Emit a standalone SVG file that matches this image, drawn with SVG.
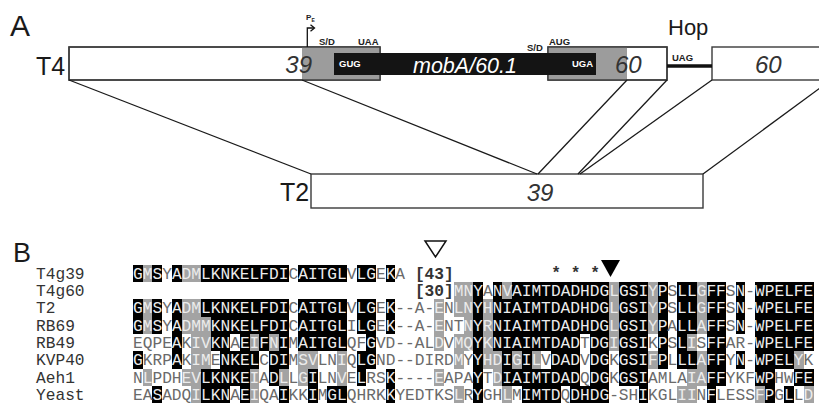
<svg xmlns="http://www.w3.org/2000/svg" width="819" height="405" viewBox="0 0 819 405">
<style>
.sans{font-family:"Liberation Sans",Arial,sans-serif}
.box{fill:#fff;stroke:#3a3a3a;stroke-width:1.4}
.outl{fill:none;stroke:#3a3a3a;stroke-width:1.4}
.gr{fill:#9c9c9c}
.bar{fill:#141414}
.conn{stroke:#1a1a1a;stroke-width:1.3;fill:none}
.big{font-size:25px;fill:#1a1a1a}
.num{font-size:24px;font-style:italic;fill:#333}
.tag{font-size:9.5px;font-weight:bold;fill:#222}
.wtag{font-size:9.5px;font-weight:bold;fill:#fff}
.mono{font-family:"Liberation Mono","Courier New",monospace;font-size:16.2px}
.name{fill:#333}
.l{fill:#ececec}
.d{fill:#6a6a6a}
.shB{fill:#000}
.shG{fill:#a3a3a3}
</style>

<!-- Panel A -->
<text class="sans" x="10" y="36" font-size="30" fill="#1a1a1a">A</text>
<text class="sans" x="668" y="35" font-size="22" fill="#1a1a1a">Hop</text>

<g id="T4">
  <text class="sans big" x="36" y="75">T4</text>
  <g id="T4-gene39">
    <rect class="box" x="69" y="47" width="311" height="33"/>
    <rect class="gr" x="302" y="47" width="78" height="33"/>
    <rect class="outl" x="69" y="47" width="311" height="33"/>
  </g>
  <g id="T4-gene60">
    <rect class="box" x="548" y="47" width="119" height="33"/>
    <rect class="gr" x="548" y="47" width="79" height="33"/>
    <rect class="outl" x="548" y="47" width="119" height="33"/>
  </g>
  <g id="T4-gene60b">
    <rect class="box" x="712" y="47" width="125" height="33"/>
    <text class="sans num" x="755" y="73">60</text>
  </g>
  <g id="mobA">
    <rect class="bar" x="334" y="53" width="262" height="22"/>
    <text class="sans" x="413" y="73" font-size="21.5" font-style="italic" fill="#fff">mobA/60.1</text>
    <text class="sans wtag" x="339" y="67">GUG</text>
    <text class="sans wtag" x="572" y="67">UGA</text>
  </g>
  <text class="sans num" x="312" y="73" text-anchor="end">39</text>
  <text class="sans num" x="615" y="73">60</text>
  <text class="sans tag" x="319" y="45">S/D</text>
  <text class="sans tag" x="358" y="45">UAA</text>
  <text class="sans tag" x="527" y="51">S/D</text>
  <text class="sans tag" x="549" y="45">AUG</text>
  <text class="sans tag" x="672" y="61">UAG</text>
  <line x1="667" y1="66" x2="712" y2="66" stroke="#111" stroke-width="3.5"/>
  <g id="promoter">
    <path d="M307.3,47 V28 H314" fill="none" stroke="#111" stroke-width="1.3"/>
    <path d="M310.5,24.8 L314.5,28 L310.5,31.2" fill="none" stroke="#111" stroke-width="1.3"/>
    <text class="sans" x="306" y="20" font-size="8" font-weight="bold" fill="#222">P</text>
    <text class="sans" x="311.5" y="22" font-size="5" font-weight="bold" fill="#222">E</text>
  </g>
</g>

<g id="T2">
  <text class="sans big" x="280" y="201">T2</text>
  <rect class="box" x="311" y="174" width="392" height="34"/>
  <text class="sans num" x="540" y="201" text-anchor="middle" font-size="23">39</text>
</g>

<g id="connectors">
  <line class="conn" x1="69" y1="80" x2="311" y2="174"/>
  <line class="conn" x1="302" y1="80" x2="537" y2="174"/>
  <line class="conn" x1="627" y1="80" x2="538" y2="174"/>
  <line class="conn" x1="667" y1="80" x2="578" y2="174"/>
  <line class="conn" x1="712" y1="80" x2="580" y2="174"/>
  <line class="conn" x1="703" y1="174" x2="831" y2="80"/>
</g>

<!-- Panel B -->
<text class="sans" x="13" y="262" font-size="27" fill="#1a1a1a">B</text>
<polygon points="425,241 446,241 435.5,257" fill="#fff" stroke="#111" stroke-width="1.5"/>
<polygon points="601,260 620,260 610.5,277" fill="#000"/>
<g class="mono" fill="#333" text-anchor="middle" font-size="15" font-weight="bold">
  <text x="556" y="278">*</text>
  <text x="575.5" y="278">*</text>
  <text x="595" y="278">*</text>
</g>

<g id="shading" transform="translate(133,0) scale(9.7215,1)" shape-rendering="crispEdges">
  <g class="shB">
    <rect x="0" y="264.85" width="1" height="17.3"/><rect x="2" y="264.85" width="1" height="17.3"/><rect x="4" y="264.85" width="1" height="17.3"/><rect x="7" y="264.85" width="9" height="17.3"/><rect x="17" y="264.85" width="5" height="17.3"/><rect x="23" y="264.85" width="2" height="17.3"/><rect x="26" y="264.85" width="1" height="17.3"/>
    <rect x="35" y="282.15" width="1" height="17.3"/><rect x="37" y="282.15" width="1" height="17.3"/><rect x="39" y="282.15" width="10" height="17.3"/><rect x="50" y="282.15" width="3" height="17.3"/><rect x="54" y="282.15" width="1" height="17.3"/><rect x="56" y="282.15" width="2" height="17.3"/><rect x="59" y="282.15" width="2" height="17.3"/><rect x="62" y="282.15" width="1" height="17.3"/><rect x="64" y="282.15" width="6" height="17.3"/>
    <rect x="0" y="299.45" width="1" height="17.3"/><rect x="2" y="299.45" width="1" height="17.3"/><rect x="4" y="299.45" width="1" height="17.3"/><rect x="7" y="299.45" width="9" height="17.3"/><rect x="17" y="299.45" width="5" height="17.3"/><rect x="23" y="299.45" width="2" height="17.3"/><rect x="26" y="299.45" width="1" height="17.3"/><rect x="35" y="299.45" width="1" height="17.3"/><rect x="37" y="299.45" width="12" height="17.3"/><rect x="50" y="299.45" width="3" height="17.3"/><rect x="54" y="299.45" width="1" height="17.3"/><rect x="56" y="299.45" width="2" height="17.3"/><rect x="59" y="299.45" width="2" height="17.3"/><rect x="62" y="299.45" width="1" height="17.3"/><rect x="64" y="299.45" width="6" height="17.3"/>
    <rect x="0" y="316.75" width="1" height="17.3"/><rect x="2" y="316.75" width="1" height="17.3"/><rect x="4" y="316.75" width="1" height="17.3"/><rect x="8" y="316.75" width="8" height="17.3"/><rect x="17" y="316.75" width="5" height="17.3"/><rect x="23" y="316.75" width="2" height="17.3"/><rect x="26" y="316.75" width="1" height="17.3"/><rect x="35" y="316.75" width="1" height="17.3"/><rect x="37" y="316.75" width="12" height="17.3"/><rect x="50" y="316.75" width="3" height="17.3"/><rect x="54" y="316.75" width="1" height="17.3"/><rect x="56" y="316.75" width="2" height="17.3"/><rect x="59" y="316.75" width="2" height="17.3"/><rect x="62" y="316.75" width="1" height="17.3"/><rect x="64" y="316.75" width="6" height="17.3"/>
    <rect x="4" y="334.05" width="1" height="17.3"/><rect x="8" y="334.05" width="2" height="17.3"/><rect x="11" y="334.05" width="1" height="17.3"/><rect x="13" y="334.05" width="1" height="17.3"/><rect x="15" y="334.05" width="1" height="17.3"/><rect x="17" y="334.05" width="5" height="17.3"/><rect x="24" y="334.05" width="1" height="17.3"/><rect x="35" y="334.05" width="1" height="17.3"/><rect x="37" y="334.05" width="9" height="17.3"/><rect x="47" y="334.05" width="2" height="17.3"/><rect x="50" y="334.05" width="3" height="17.3"/><rect x="54" y="334.05" width="1" height="17.3"/><rect x="56" y="334.05" width="1" height="17.3"/><rect x="59" y="334.05" width="2" height="17.3"/><rect x="64" y="334.05" width="6" height="17.3"/>
    <rect x="0" y="351.35" width="1" height="17.3"/><rect x="4" y="351.35" width="1" height="17.3"/><rect x="9" y="351.35" width="4" height="17.3"/><rect x="14" y="351.35" width="2" height="17.3"/><rect x="23" y="351.35" width="2" height="17.3"/><rect x="35" y="351.35" width="1" height="17.3"/><rect x="38" y="351.35" width="1" height="17.3"/><rect x="40" y="351.35" width="1" height="17.3"/><rect x="43" y="351.35" width="3" height="17.3"/><rect x="47" y="351.35" width="2" height="17.3"/><rect x="50" y="351.35" width="3" height="17.3"/><rect x="54" y="351.35" width="1" height="17.3"/><rect x="56" y="351.35" width="2" height="17.3"/><rect x="59" y="351.35" width="2" height="17.3"/><rect x="62" y="351.35" width="1" height="17.3"/><rect x="64" y="351.35" width="4" height="17.3"/>
    <rect x="7" y="368.65" width="5" height="17.3"/><rect x="14" y="368.65" width="1" height="17.3"/><rect x="18" y="368.65" width="1" height="17.3"/><rect x="23" y="368.65" width="1" height="17.3"/><rect x="26" y="368.65" width="1" height="17.3"/><rect x="35" y="368.65" width="1" height="17.3"/><rect x="38" y="368.65" width="8" height="17.3"/><rect x="47" y="368.65" width="2" height="17.3"/><rect x="50" y="368.65" width="3" height="17.3"/><rect x="59" y="368.65" width="2" height="17.3"/><rect x="64" y="368.65" width="2" height="17.3"/><rect x="68" y="368.65" width="2" height="17.3"/>
    <rect x="2" y="385.95" width="1" height="17.3"/><rect x="7" y="385.95" width="3" height="17.3"/><rect x="11" y="385.95" width="1" height="17.3"/><rect x="15" y="385.95" width="1" height="17.3"/><rect x="18" y="385.95" width="1" height="17.3"/><rect x="20" y="385.95" width="2" height="17.3"/><rect x="26" y="385.95" width="1" height="17.3"/><rect x="35" y="385.95" width="1" height="17.3"/><rect x="40" y="385.95" width="4" height="17.3"/><rect x="45" y="385.95" width="4" height="17.3"/><rect x="52" y="385.95" width="1" height="17.3"/><rect x="59" y="385.95" width="1" height="17.3"/><rect x="65" y="385.95" width="1" height="17.3"/><rect x="67" y="385.95" width="1" height="17.3"/>
  </g>
  <g class="shG">
    <rect x="1" y="264.85" width="1" height="17.3"/><rect x="5" y="264.85" width="2" height="17.3"/>
    <rect x="33" y="282.15" width="2" height="17.3"/><rect x="38" y="282.15" width="1" height="17.3"/><rect x="49" y="282.15" width="1" height="17.3"/><rect x="53" y="282.15" width="1" height="17.3"/><rect x="58" y="282.15" width="1" height="17.3"/>
    <rect x="1" y="299.45" width="1" height="17.3"/><rect x="5" y="299.45" width="2" height="17.3"/><rect x="31" y="299.45" width="1" height="17.3"/><rect x="33" y="299.45" width="2" height="17.3"/><rect x="36" y="299.45" width="1" height="17.3"/><rect x="49" y="299.45" width="1" height="17.3"/><rect x="53" y="299.45" width="1" height="17.3"/><rect x="58" y="299.45" width="1" height="17.3"/>
    <rect x="1" y="316.75" width="1" height="17.3"/><rect x="5" y="316.75" width="3" height="17.3"/><rect x="31" y="316.75" width="1" height="17.3"/><rect x="34" y="316.75" width="1" height="17.3"/><rect x="36" y="316.75" width="1" height="17.3"/><rect x="49" y="316.75" width="1" height="17.3"/><rect x="53" y="316.75" width="1" height="17.3"/><rect x="58" y="316.75" width="1" height="17.3"/>
    <rect x="6" y="334.05" width="2" height="17.3"/><rect x="12" y="334.05" width="1" height="17.3"/><rect x="14" y="334.05" width="1" height="17.3"/><rect x="31" y="334.05" width="1" height="17.3"/><rect x="33" y="334.05" width="2" height="17.3"/><rect x="36" y="334.05" width="1" height="17.3"/><rect x="49" y="334.05" width="1" height="17.3"/><rect x="57" y="334.05" width="1" height="17.3"/>
    <rect x="6" y="351.35" width="2" height="17.3"/><rect x="17" y="351.35" width="2" height="17.3"/><rect x="21" y="351.35" width="1" height="17.3"/><rect x="33" y="351.35" width="1" height="17.3"/><rect x="36" y="351.35" width="2" height="17.3"/><rect x="39" y="351.35" width="1" height="17.3"/><rect x="41" y="351.35" width="1" height="17.3"/><rect x="53" y="351.35" width="1" height="17.3"/><rect x="58" y="351.35" width="1" height="17.3"/><rect x="68" y="351.35" width="1" height="17.3"/>
    <rect x="1" y="368.65" width="1" height="17.3"/><rect x="5" y="368.65" width="2" height="17.3"/><rect x="12" y="368.65" width="1" height="17.3"/><rect x="15" y="368.65" width="1" height="17.3"/><rect x="17" y="368.65" width="1" height="17.3"/><rect x="21" y="368.65" width="1" height="17.3"/><rect x="31" y="368.65" width="1" height="17.3"/><rect x="37" y="368.65" width="1" height="17.3"/><rect x="57" y="368.65" width="2" height="17.3"/>
    <rect x="6" y="385.95" width="1" height="17.3"/><rect x="12" y="385.95" width="1" height="17.3"/><rect x="33" y="385.95" width="1" height="17.3"/><rect x="38" y="385.95" width="1" height="17.3"/><rect x="56" y="385.95" width="2" height="17.3"/><rect x="64" y="385.95" width="1" height="17.3"/><rect x="69" y="385.95" width="1" height="17.3"/>
  </g>
</g>

<g id="names" class="mono name">
  <text x="36" y="278.85">T4g39</text>
  <text x="36" y="296.15">T4g60</text>
  <text x="36" y="313.45">T2</text>
  <text x="36" y="330.75">RB69</text>
  <text x="36" y="348.05">RB49</text>
  <text x="36" y="365.35">KVP40</text>
  <text x="36" y="382.65">Aeh1</text>
  <text x="36" y="399.95">Yeast</text>
</g>

<g id="brackets" class="mono" font-weight="bold" fill="#333">
  <text x="414.92" y="278.85">[43]</text>
  <text x="414.92" y="296.15">[30]</text>
</g>

<g id="sequences" class="mono">
  <text x="133" y="278.85"><tspan class="l">GMS</tspan><tspan class="d">Y</tspan><tspan class="l">ADMLKNKELFDI</tspan><tspan class="d">C</tspan><tspan class="l">AITGL</tspan><tspan class="d">V</tspan><tspan class="l">LG</tspan><tspan class="d">E</tspan><tspan class="l">K</tspan><tspan class="d">A</tspan></text>
  <text x="453.81" y="296.15"><tspan class="l">MNY</tspan><tspan class="d">A</tspan><tspan class="l">NVAIMTDADHDGLGSIYP</tspan><tspan class="d">S</tspan><tspan class="l">LLGFF</tspan><tspan class="d">S</tspan><tspan class="l">N</tspan><tspan class="d">-</tspan><tspan class="l">WPELFE</tspan></text>
  <text x="133" y="313.45"><tspan class="l">GMS</tspan><tspan class="d">Y</tspan><tspan class="l">ADMLKNKELFDI</tspan><tspan class="d">C</tspan><tspan class="l">AITGL</tspan><tspan class="d">V</tspan><tspan class="l">LG</tspan><tspan class="d">E</tspan><tspan class="l">K</tspan><tspan class="d">--A-</tspan><tspan class="l">E</tspan><tspan class="d">N</tspan><tspan class="l">LNYHNIAIMTDADHDGLGSIYP</tspan><tspan class="d">S</tspan><tspan class="l">LLGFF</tspan><tspan class="d">S</tspan><tspan class="l">N</tspan><tspan class="d">-</tspan><tspan class="l">WPELFE</tspan></text>
  <text x="133" y="330.75"><tspan class="l">GMS</tspan><tspan class="d">Y</tspan><tspan class="l">ADMMKNKELFDI</tspan><tspan class="d">C</tspan><tspan class="l">AITGL</tspan><tspan class="d">I</tspan><tspan class="l">LG</tspan><tspan class="d">E</tspan><tspan class="l">K</tspan><tspan class="d">--A-</tspan><tspan class="l">E</tspan><tspan class="d">NT</tspan><tspan class="l">NYRNIAIMTDADHDGLGSIYP</tspan><tspan class="d">A</tspan><tspan class="l">LLAFF</tspan><tspan class="d">S</tspan><tspan class="l">N</tspan><tspan class="d">-</tspan><tspan class="l">WPELFE</tspan></text>
  <text x="133" y="348.05"><tspan class="d">EQPE</tspan><tspan class="l">A</tspan><tspan class="d">K</tspan><tspan class="l">IVKN</tspan><tspan class="d">A</tspan><tspan class="l">EIFNI</tspan><tspan class="d">M</tspan><tspan class="l">AITGL</tspan><tspan class="d">QF</tspan><tspan class="l">G</tspan><tspan class="d">VD--AL</tspan><tspan class="l">D</tspan><tspan class="d">V</tspan><tspan class="l">MQYKNIAIMTDAD</tspan><tspan class="d">T</tspan><tspan class="l">DGIGSI</tspan><tspan class="d">K</tspan><tspan class="l">P</tspan><tspan class="d">S</tspan><tspan class="l">LI</tspan><tspan class="d">S</tspan><tspan class="l">FF</tspan><tspan class="d">AR-</tspan><tspan class="l">WPELFE</tspan></text>
  <text x="133" y="365.35"><tspan class="l">G</tspan><tspan class="d">KRP</tspan><tspan class="l">A</tspan><tspan class="d">K</tspan><tspan class="l">IM</tspan><tspan class="d">E</tspan><tspan class="l">NKEL</tspan><tspan class="d">C</tspan><tspan class="l">DI</tspan><tspan class="d">M</tspan><tspan class="l">SV</tspan><tspan class="d">LN</tspan><tspan class="l">I</tspan><tspan class="d">Q</tspan><tspan class="l">LG</tspan><tspan class="d">ND--DIRD</tspan><tspan class="l">M</tspan><tspan class="d">Y</tspan><tspan class="l">YHDIGIL</tspan><tspan class="d">V</tspan><tspan class="l">DAD</tspan><tspan class="d">V</tspan><tspan class="l">DG</tspan><tspan class="d">K</tspan><tspan class="l">GSIFP</tspan><tspan class="d">L</tspan><tspan class="l">LLAFF</tspan><tspan class="d">Y</tspan><tspan class="l">N</tspan><tspan class="d">-</tspan><tspan class="l">WPELY</tspan><tspan class="d">K</tspan></text>
  <text x="133" y="382.65"><tspan class="d">N</tspan><tspan class="l">L</tspan><tspan class="d">PDH</tspan><tspan class="l">EVLKNKEI</tspan><tspan class="d">A</tspan><tspan class="l">DL</tspan><tspan class="d">L</tspan><tspan class="l">GI</tspan><tspan class="d">LN</tspan><tspan class="l">V</tspan><tspan class="d">E</tspan><tspan class="l">L</tspan><tspan class="d">RS</tspan><tspan class="l">K</tspan><tspan class="d">----</tspan><tspan class="l">E</tspan><tspan class="d">APA</tspan><tspan class="l">Y</tspan><tspan class="d">T</tspan><tspan class="l">DIAIMTDAD</tspan><tspan class="d">Q</tspan><tspan class="l">DG</tspan><tspan class="d">K</tspan><tspan class="l">GSI</tspan><tspan class="d">AMLA</tspan><tspan class="l">IAFF</tspan><tspan class="d">YKF</tspan><tspan class="l">WP</tspan><tspan class="d">HW</tspan><tspan class="l">FE</tspan></text>
  <text x="133" y="399.95"><tspan class="d">EA</tspan><tspan class="l">S</tspan><tspan class="d">ADQ</tspan><tspan class="l">ILKN</tspan><tspan class="d">A</tspan><tspan class="l">EI</tspan><tspan class="d">QA</tspan><tspan class="l">I</tspan><tspan class="d">KK</tspan><tspan class="l">I</tspan><tspan class="d">M</tspan><tspan class="l">GL</tspan><tspan class="d">QHRK</tspan><tspan class="l">K</tspan><tspan class="d">YEDTKS</tspan><tspan class="l">L</tspan><tspan class="d">R</tspan><tspan class="l">Y</tspan><tspan class="d">GH</tspan><tspan class="l">L</tspan><tspan class="d">M</tspan><tspan class="l">IMTD</tspan><tspan class="d">Q</tspan><tspan class="l">DHDG</tspan><tspan class="d">-SH</tspan><tspan class="l">I</tspan><tspan class="d">KGL</tspan><tspan class="l">II</tspan><tspan class="d">N</tspan><tspan class="l">F</tspan><tspan class="d">LESS</tspan><tspan class="l">FP</tspan><tspan class="d">G</tspan><tspan class="l">L</tspan><tspan class="d">L</tspan><tspan class="l">D</tspan></text>
</g>
</svg>
